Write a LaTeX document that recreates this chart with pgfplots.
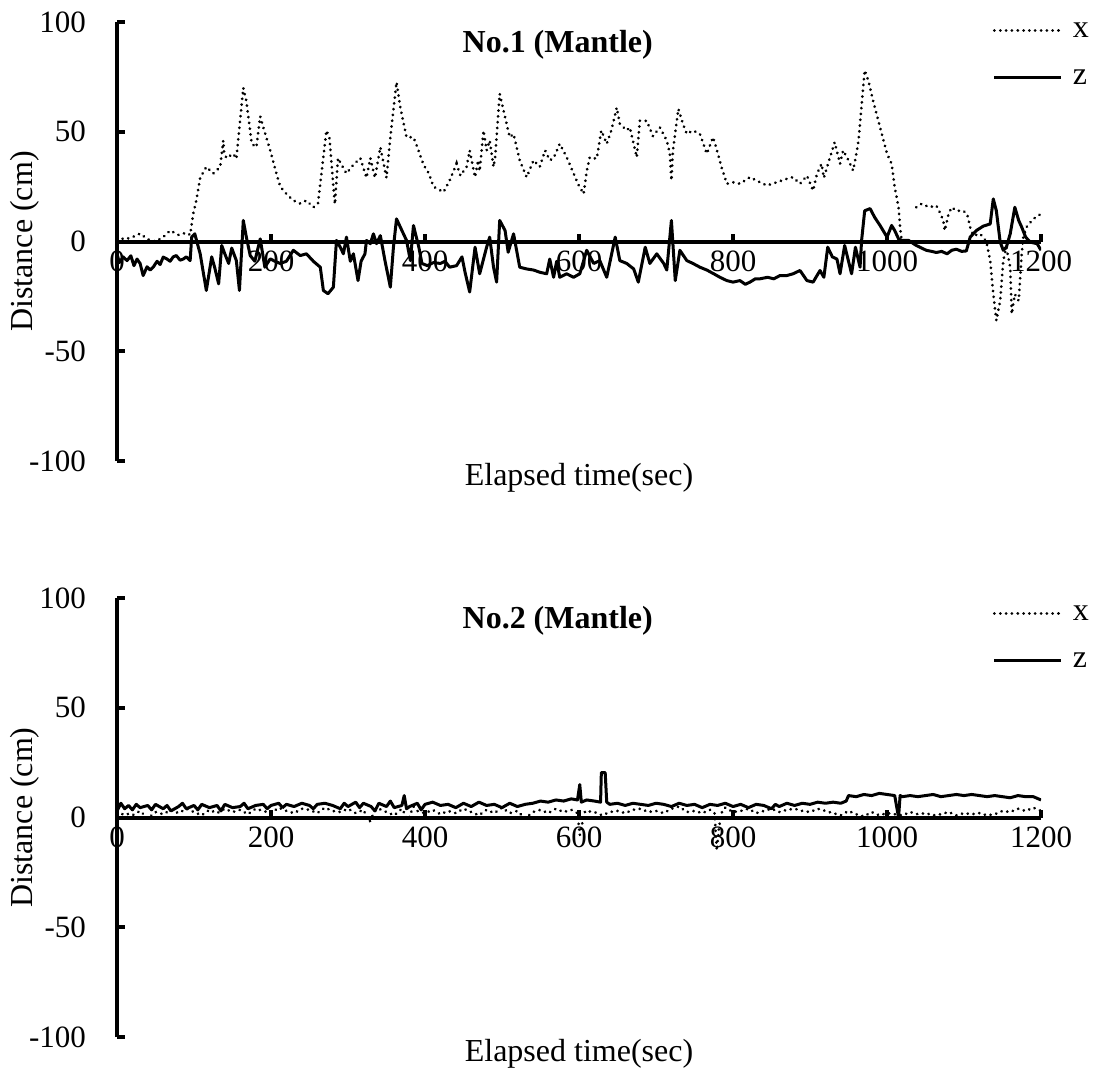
\documentclass[border=0pt]{standalone}
\usepackage{pgfplots}
\pgfplotsset{compat=1.18}
\usepackage{fontspec}
\setmainfont{Liberation Serif}

\pgfplotsset{
  panel/.style={
    scale only axis, width=462pt, height=219.5pt,
    xmin=0, xmax=1200, ymin=-100, ymax=100,
    axis x line=middle, axis y line=left,
    axis line style={line width=2pt, -},
    x axis line style={-}, y axis line style={-},
    every inner x axis line/.append style={-},
    every outer y axis line/.append style={-},
    hide obscured x ticks=false, hide obscured y ticks=false,
    xtick={0,200,400,600,800,1000,1200},
    xticklabels={0,200,400,600,800,1000,1200},
    ytick={-100,-50,0,50,100},
    yticklabels={-100,-50,0,50,100},
    tick align=inside,
    major tick length=4pt,
    tick style={line width=2pt, black},
    ticklabel style={font=\fontsize{15.5}{18}\selectfont},
    yticklabel style={xshift=-12pt},
    xticklabel style={yshift=-1pt},
    xlabel={Elapsed time(sec)},
    ylabel={Distance (cm)},
    xlabel style={at={(axis description cs:0.5,0)}, anchor=north, inner sep=0pt, yshift=-1pt, font=\fontsize{16}{19}\selectfont},
    ylabel style={at={(axis description cs:-0.0996,0.5)}, anchor=center, font=\fontsize{16}{19}\selectfont},
    every axis title shift=0pt,
    title style={at={(axis description cs:0.477,0.947)}, anchor=center, font=\fontsize{16}{19}\selectfont\bfseries},
    unbounded coords=jump,
    legend cell align=left,
    legend image code/.code={\draw[##1] (0pt,3.5pt) -- (33.5pt,3.5pt);},
  },
  xser/.style={black, line width=1.5pt, line cap=round, dash pattern=on 0.01pt off 2.9pt},
  zser/.style={black, line width=1.5pt, line join=round},
}

\begin{document}
\begin{tikzpicture}[font=\fontsize{16}{19}\selectfont]
\path[use as bounding box] (0,0) rectangle (547.5pt,-535.5pt);

% ---------------- Panel 1 ----------------
\begin{axis}[panel, at={(58.5pt,-230.5pt)}, anchor=south west,
  title={No.1 (Mantle)},
  legend style={draw=none, fill=none, inner sep=0pt, outer sep=0pt,
    at={(axis description cs:0.948,0.996)}, anchor=north west,
    row sep=16.5pt, column sep=5pt,
    nodes={inner sep=0pt, text height=7pt, text depth=0pt, anchor=base west},
    font=\fontsize{16}{19}\selectfont},
]
\addplot[xser] coordinates {
(0,2) (10,1) (20,2) (30,3.6) (40,1) (50,0) (60,2) (69,5) (80,3) (90,4) (95,3)
(99,12.7) (103,18.7) (108,29) (116,34) (125,31) (134,34) (138,46) (139,41) (142,38)
(151,40) (155,37.7) (164,70) (168,64) (175,44.5) (181,43) (186,57) (190,52) (199,41.5)
(207,31) (212,25) (220,21.7) (229,18.7) (238,17.3) (246,18.7) (255,15.6) (261,17.3)
(272,50.6) (276,47) (281,25) (283,17) (287,38) (290,36) (298,31) (307,35) (316,38)
(324,29) (329,38) (335,29) (342,43) (350,29) (355,47.5) (363,72.6) (368,61) (376,47.5)
(385,47.5) (390,43) (398,35) (405,31) (411,25) (424,22.5) (432,27.8) (441,35.4) (446,30)
(454,34) (458,41.5) (465,29.3) (469,37) (471,32) (476,50.6) (480,41.5) (484,46) (489,34)
(491,38) (497,67.3) (502,59.7) (510,47.5) (515,49) (523,37) (532,29.3) (541,37) (549,34)
(556,41.5) (562,37) (567,38) (575,44.5) (584,38.4) (593,31) (599,26) (606,21.7) (610,32)
(614,38.4) (623,37.7) (629,50.6) (636,44.5) (642,50.6) (649,61) (653,53.6) (662,50.6)
(666,52) (675,38.4) (679,55) (688,55) (696,48) (705,52) (714,46) (718,40) (720,27.8)
(722,41.5) (729,60.4) (735,53.6) (740,49) (748,50.6) (757,49) (766,40) (774,47.5) (778,43)
(785,34) (792,26.3) (801,27) (809,26.3) (822,29.3) (835,27) (844,25.5) (857,27) (870,28.6)
(878,29.3) (887,26.3) (896,30) (904,23.2) (909,30.8) (915,35.4) (918,29) (926,38.4)
(932,45.2) (939,35.4) (943,41.5) (950,37) (956,32.3) (961,41.5) (963,46) (971,78) (976,73)
(982,64) (991,52) (1000,40) (1006,35.4) (1010,24.7) (1015,15.6) (1017,6.5) (1019,0.5)
(1028,nan)
(1038,15.6) (1045,17.2) (1055,15.6) (1064,16.4) (1069,13) (1073,9.6) (1075,5) (1080,12.6)
(1084,15.6) (1090,14) (1099,14) (1104,12.6) (1108,6.5) (1112,2.7) (1121,3.5) (1129,0)
(1134,-8.7) (1138,-23.8) (1142,-36) (1147,-27) (1151,-8.7) (1155,-2.6) (1160,-11.7)
(1162,-33) (1166,-24) (1171,-27) (1175,-5.6) (1177,2) (1181,6.5) (1190,10.3) (1200,12.6)
};
\addlegendentry{x}
\addplot[zser] coordinates {
(0,-5.6) (3,-9.6) (8,-7) (13,-8.7) (18,-6.5) (22,-11) (26,-8) (30,-10) (34,-15.5) (39,-11.5)
(43,-13) (47,-11.7) (52,-9) (56,-10.5) (60,-7.1) (65,-8) (69,-9) (73,-7) (77,-6.4) (82,-8.5)
(86,-8) (90,-7) (95,-8.7) (97,2) (101,3.5) (108,-5.6) (116,-22.3) (123,-7) (127,-12)
(132,-19.3) (136,-1.8) (140,-5.6) (145,-10) (149,-3) (155,-8.7) (159,-22.3) (164,9.6)
(168,2) (173,-6.4) (179,-9) (186,1.2) (192,-11.7) (199,-7.9) (205,-9) (212,-10) (220,-9)
(229,-4) (238,-6.4) (246,-5.6) (255,-9) (264,-11.7) (268,-22.3) (274,-23.8) (281,-20.8)
(285,0.5) (290,-2.6) (294,-5.6) (298,2) (303,-9) (307,-5.6) (313,-17.8) (317,-9)
(322,-5.6) (324,0.5) (329,-1) (333,3.5) (337,-1) (342,2.7) (348,-8.7) (355,-20.8)
(359,-2.6) (363,10.3) (370,5) (376,0.5) (381,-8.7) (385,7.3) (392,-2.6) (396,-10)
(403,-11) (411,-9.6) (420,-10) (426,-9) (432,-11.7) (441,-11) (448,-7) (452,-14) (458,-23)
(465,-2.6) (471,-14.7) (480,-2.6) (484,2) (489,-11.7) (493,-18.5) (497,9.6) (504,5)
(508,-4.9) (515,3.5) (523,-11.7) (532,-12.5) (541,-13) (549,-14) (558,-14.7) (562,-8)
(567,-16.3) (571,-9) (575,-16.3) (584,-14.7) (593,-16.3) (601,-14.7) (610,-4) (619,-10)
(627,-8.7) (636,-16.3) (647,2) (653,-8.7) (662,-10) (671,-12.5) (677,-18.5) (686,-2.6)
(692,-10) (701,-5.6) (710,-10) (714,-13) (720,9.6) (725,-17.8) (731,-4) (740,-8.7)
(748,-10) (757,-11.7) (766,-13) (775,-14.7) (783,-16.3) (792,-17.8) (800,-18.5)
(809,-17.8) (816,-19.5) (822,-18.5) (829,-17) (835,-17) (845,-16.3) (853,-17) (861,-15.5)
(870,-15.5) (878,-14.7) (887,-13.2) (896,-17.8) (904,-18.5) (913,-13.2) (918,-16.3)
(923,-2.6) (929,-7) (935,-8) (939,-14.7) (945,-1.8) (950,-9) (954,-14.7) (959,-2.6)
(965,-11.7) (967,0.5) (971,14) (978,15) (984,11) (991,7.3) (1000,2) (1006,7.3) (1010,5)
(1015,1.2) (1019,0.5) (1028,0.5) (1038,-1.8) (1045,-3) (1051,-4) (1058,-4.5) (1064,-5)
(1071,-4.5) (1078,-5.6) (1084,-4) (1090,-3.5) (1097,-4.5) (1103,-4.3) (1108,2) (1116,5)
(1125,7) (1134,8) (1138,19.4) (1142,14) (1147,-0.3) (1151,-4) (1155,-2.6) (1160,3.5)
(1166,15.6) (1171,9.6) (1175,6.5) (1180,2) (1186,-0.3) (1195,-1) (1200,-4)
};
\addlegendentry{z}
\end{axis}

% ---------------- Panel 2 ----------------
\begin{axis}[panel, at={(58.5pt,-518.5pt)}, anchor=south west,
  title={No.2 (Mantle)},
  legend style={draw=none, fill=none, inner sep=0pt, outer sep=0pt,
    at={(axis description cs:0.948,0.980)}, anchor=north west,
    row sep=16.5pt, column sep=5pt,
    nodes={inner sep=0pt, text height=7pt, text depth=0pt, anchor=base west},
    font=\fontsize{16}{19}\selectfont},
]
\addplot[xser] coordinates {
(0,0.5) (10,2) (20,1) (30,3) (40,-0.5) (50,2.5) (60,1.5) (70,3.5) (80,2) (90,4) (100,2.5)
(110,1) (120,3.5) (130,2) (140,4) (150,2.5) (160,3.5) (170,1.5) (180,4) (190,3) (200,2)
(210,4.5) (220,3) (230,2) (240,4) (250,3.5) (260,2) (270,4.5) (280,3) (290,2.5) (300,4)
(310,2) (320,3.5) (328,-2) (335,3) (340,4) (350,2.5) (360,1) (370,4) (378,-1) (385,5)
(390,3) (400,2) (410,3.5) (420,1.5) (430,3) (440,2) (450,4) (460,2.5) (470,1) (480,3.5)
(490,2) (500,4.5) (510,2) (520,3) (530,-0.5) (540,2.5) (550,3.5) (560,2) (570,4) (580,2.5)
(590,3.5) (598,2) (601,-8) (604,-3) (608,3) (620,2.5) (630,1) (640,2.5) (650,3) (660,2)
(670,3.5) (680,4) (690,2.5) (700,3) (710,2) (720,4) (730,5) (740,2.5) (750,3) (760,2)
(770,3.5) (776,2) (779,-15) (782,-4) (786,3) (790,4.5) (800,2.5) (810,3) (820,4) (830,2)
(840,3) (850,4) (860,2.5) (870,3.5) (880,4) (890,3) (900,2.5) (910,4) (920,3) (930,2)
(940,1) (950,3) (960,1.5) (970,0.5) (980,2.5) (990,1) (1000,2) (1010,1.5) (1020,1)
(1030,2.5) (1040,1.5) (1050,2) (1060,1) (1070,1.5) (1080,2.5) (1090,1) (1100,2) (1110,1.5)
(1120,2) (1130,1) (1140,1.5) (1150,3) (1160,2.5) (1170,4) (1180,3) (1190,4.5) (1200,3)
};
\addlegendentry{x}
\addplot[zser] coordinates {
(0,3) (5,6.5) (10,4) (15,5.5) (20,3.5) (25,6) (30,4.5) (40,5.5) (45,3.5) (50,6) (60,4)
(65,5.5) (70,3) (80,5) (85,6.5) (90,4) (100,5.5) (105,3.5) (110,6) (120,4.5) (130,5.5)
(135,3) (140,6) (150,4.5) (160,5) (165,6.5) (170,4) (180,5.5) (190,6) (195,4) (200,5.5)
(210,6.5) (215,4.5) (220,6) (230,5) (240,6.5) (250,5.5) (255,4) (260,6) (270,6.5) (280,5.5)
(290,4) (295,6.5) (300,5) (310,7) (315,4.5) (320,6.5) (330,5) (335,3) (340,6.5) (350,5)
(355,7.5) (360,4.5) (370,5.5) (373,10) (376,4) (380,5) (390,6.5) (395,3.5) (400,6) (410,7)
(420,5.5) (430,6) (440,4.5) (450,6.5) (460,5) (470,7) (480,5.5) (490,6) (500,4.5) (510,6.5)
(520,5) (530,6) (540,6.5) (550,7.5) (560,7) (570,8) (580,7.5) (590,8.5) (598,8) (601,15)
(603,7) (610,8) (620,7.5) (628,7) (629,20.5) (634,20.5) (636,7) (640,6) (650,6.5)
(660,5.5) (670,6.5) (680,6) (690,5.5) (700,6.5) (710,6) (720,5) (730,6.5) (740,5.5)
(750,6) (760,4.5) (770,6) (780,5.5) (790,6.5) (800,5) (810,6) (820,4.5) (830,6) (840,5.5)
(850,4) (855,6) (860,5) (870,6.5) (880,5.5) (890,6.5) (900,6) (910,7) (920,6.5) (930,7)
(940,6.5) (947,7.5) (950,10) (960,9.5) (970,10.5) (980,10) (990,11) (1000,10.5) (1010,10)
(1015,0) (1017,10) (1020,9.5) (1030,10) (1040,9.5) (1050,10) (1060,10.5) (1070,9.5)
(1080,10) (1090,10.5) (1100,10) (1110,10.5) (1120,10) (1130,9.5) (1140,10) (1150,9.5)
(1160,9) (1170,10) (1180,9.5) (1190,9.5) (1200,8)
};
\addlegendentry{z}
\end{axis}
\end{tikzpicture}
\end{document}
